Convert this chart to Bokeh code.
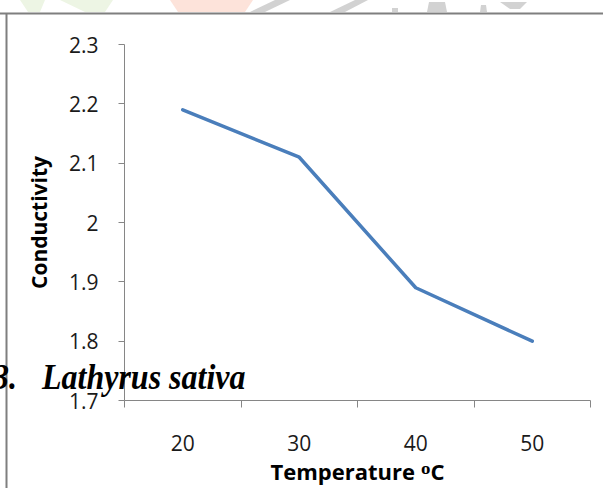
from bokeh.plotting import figure
from bokeh.models import Range1d, FixedTicker, GridBox, Div
from bokeh.embed import file_html
from bokeh.resources import INLINE

# Data
temperature = [20, 30, 40, 50]
conductivity = [2.19, 2.11, 1.89, 1.80]
y_tick_labels = ["1.7", "1.8", "1.9", "2", "2.1", "2.2", "2.3"]
y_ticks = [float(s) for s in y_tick_labels]
x_bounds = [15, 25, 35, 45, 55]

W, H = 603, 488
F_LEFT, F_RIGHT, F_TOP, F_BOTTOM = 124, 590, 44, 400

AX = "#868686"
TXT = "#1a1a1a"
FONT = "Open Sans"

# ---- chart -------------------------------------------------------------
p = figure(width=W, height=H, output_backend="svg", toolbar_location=None,
           x_range=Range1d(x_bounds[0], x_bounds[-1]),
           y_range=Range1d(y_ticks[0], y_ticks[-1]),
           min_border_left=F_LEFT, min_border_right=W - F_RIGHT,
           min_border_top=F_TOP, min_border_bottom=H - F_BOTTOM)
p.xgrid.visible = False
p.ygrid.visible = False
p.outline_line_color = None
p.background_fill_color = "white"
p.border_fill_color = "white"

p.line(temperature, conductivity, line_color="#4A7EBB", line_width=3.5,
       line_cap="round", line_join="round")

xa = p.xaxis[0]
xa.ticker = FixedTicker(ticks=temperature, minor_ticks=x_bounds)
xa.major_tick_in = 0
xa.major_tick_out = 0
xa.minor_tick_in = 0
xa.minor_tick_out = 7
xa.minor_tick_line_color = AX
xa.axis_line_color = AX
xa.major_label_text_font = FONT
xa.major_label_text_font_size = "21px"
xa.major_label_text_color = TXT
xa.major_label_standoff = 27
xa.axis_label = "Temperature \u1d3cC"
xa.axis_label_text_font = FONT
xa.axis_label_text_font_style = "bold"
xa.axis_label_text_font_size = "22px"
xa.axis_label_text_color = "#000000"
xa.axis_label_standoff = 2

ya = p.yaxis[0]
ya.ticker = FixedTicker(ticks=y_ticks, minor_ticks=[])
ya.major_label_overrides = dict(zip(y_ticks, y_tick_labels))
ya.major_tick_in = 0
ya.major_tick_out = 6
ya.major_tick_line_color = AX
ya.minor_tick_line_color = None
ya.axis_line_color = AX
ya.major_label_text_font = FONT
ya.major_label_text_font_size = "21px"
ya.major_label_text_color = TXT
ya.major_label_standoff = 20
ya.axis_label = "Conductivity"
ya.axis_label_text_font = FONT
ya.axis_label_text_font_style = "bold"
ya.axis_label_text_font_size = "21px"
ya.axis_label_text_color = "#000000"
ya.axis_label_standoff = 13

# ---- page layer drawn over the chart: frame rules, logo strip, heading ---
logo = [
    ("#edf5e4", "20,0 45,0 40,12 28,12"),
    ("#edf5e4", "60,0 113,0 105,12 85,12"),
    ("#fde3da", "170,0 253,0 245,12 178,12"),
    ("#d2d2d2", "250,12 265,12 290,0 275,0"),
    ("#d2d2d2", "330,12 345,12 368,0 355,0"),
    ("#d2d2d2", "392,12 398,12 398,8 392,8"),
    ("#d2d2d2", "427,12 447,12 445,2 429,2"),
    ("#d2d2d2", "480,12 487,12 486,5 481,5"),
    ("#d2d2d2", "500,2 527,2 520,9 510,9"),
]
shapes = "".join(f'<polygon points="{pts}" fill="{c}"/>' for c, pts in logo)
heading_style = ('style="font-family:\'Liberation Serif\',\'Times New Roman\',serif;'
                 'font-weight:bold;font-style:italic;font-size:32px;fill:#000000"')
svg = (
    f'<svg xmlns="http://www.w3.org/2000/svg" width="{W}" height="{H}" '
    f'style="position:absolute;left:0;top:0;overflow:visible;pointer-events:none">'
    f'{shapes}'
    f'<line x1="0" y1="13.5" x2="{W}" y2="13.5" stroke="#7f7f7f" stroke-width="2"/>'
    f'<line x1="6.5" y1="13.5" x2="6.5" y2="{H}" stroke="#7f7f7f" stroke-width="2"/>'
    f'<g transform="translate(0,389) scale(1,1.12)">'
    f'<text x="-7" y="0" {heading_style}>3.</text>'
    f'<text x="42" y="0" {heading_style}>Lathyrus sativa</text>'
    f'</g>'
    f'</svg>'
)
overlay = Div(text=svg, width=W, height=H,
              styles={"pointer-events": "none", "margin": "0", "padding": "0"})

page = GridBox(children=[(p, 0, 0), (overlay, 0, 0)])

open("out.html", "w").write(file_html(page, INLINE))
